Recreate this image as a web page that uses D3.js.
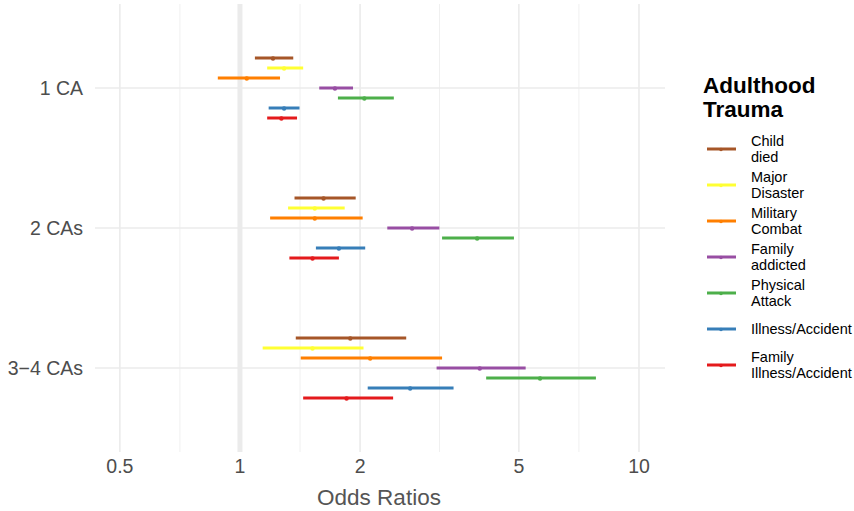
<!DOCTYPE html>
<html>
<head>
<meta charset="utf-8">
<script src="https://cdn.jsdelivr.net/npm/d3@7"></script>
<style>
  body { margin: 0; background: #fff; }
  text { font-family: "Liberation Sans", Arial, sans-serif; }
</style>
</head>
<body>
<div id="chart"></div>
<script>
// categories and series
const groups = ["1 CA", "2 CAs", "3\u22124 CAs"];
const traumas = ["Child\ndied", "Major\nDisaster", "Military\nCombat", "Family\naddicted",
  "Physical\nAttack", "Illness/Accident", "Family\nIllness/Accident"];
const colors = ["#A65628", "#FFFF33", "#FF7F00", "#984EA3", "#4DAF4A", "#377EB8", "#E41A1C"];

// odds ratios per trauma, one value per group (1 CA, 2 CAs, 3-4 CAs)
const orEst = [
  [1.21, 1.62, 1.89],
  [1.29, 1.54, 1.52],
  [1.04, 1.54, 2.12],
  [1.73, 2.70, 3.99],
  [2.05, 3.93, 5.65],
  [1.29, 1.77, 2.67],
  [1.27, 1.52, 1.85]
];
const orLow = [
  [1.09, 1.37, 1.38],
  [1.17, 1.32, 1.14],
  [0.88, 1.19, 1.42],
  [1.58, 2.34, 3.11],
  [1.76, 3.21, 4.14],
  [1.18, 1.55, 2.09],
  [1.17, 1.33, 1.44]
];
const orHigh = [
  [1.36, 1.95, 2.61],
  [1.44, 1.83, 2.04],
  [1.26, 2.03, 3.21],
  [1.92, 3.16, 5.20],
  [2.43, 4.86, 7.80],
  [1.41, 2.06, 3.43],
  [1.39, 1.77, 2.42]
];
const xTicks = [0.5, 1, 2, 5, 10];
const xMinor = [0.7071, 1.4142, 3.1623, 7.0711];

const W = 854, H = 511;
const panel = { left: 95, right: 665, top: 4, bottom: 452 };

const svg = d3.select("#chart").append("svg")
  .attr("width", W).attr("height", H);

const x = d3.scaleLog()
  .domain([0.4332, 11.62])
  .range([panel.left, panel.right]);

const y = d3.scalePoint()
  .domain(groups)
  .range([88, 368]);

const dodge = d3.scalePoint()
  .domain(d3.range(traumas.length))
  .range([-30, 30]);

// grid
const grid = svg.append("g");
grid.selectAll(".minor").data(xMinor).join("line")
  .attr("x1", d => x(d)).attr("x2", d => x(d))
  .attr("y1", panel.top).attr("y2", panel.bottom)
  .attr("stroke", "#f0f0f0").attr("stroke-width", 1);
grid.selectAll(".major").data(xTicks).join("line")
  .attr("x1", d => x(d)).attr("x2", d => x(d))
  .attr("y1", panel.top).attr("y2", panel.bottom)
  .attr("stroke", "#ebebeb").attr("stroke-width", 1.6);
grid.selectAll(".hgrid").data(groups).join("line")
  .attr("x1", panel.left).attr("x2", panel.right)
  .attr("y1", d => y(d)).attr("y2", d => y(d))
  .attr("stroke", "#ebebeb").attr("stroke-width", 1.6);
// reference line at OR = 1
grid.append("line")
  .attr("x1", x(1)).attr("x2", x(1))
  .attr("y1", panel.top).attr("y2", panel.bottom)
  .attr("stroke", "#ebebeb").attr("stroke-width", 5);

// intervals
const rows = [];
traumas.forEach((t, i) => {
  groups.forEach((g, j) => {
    rows.push({ i, g, est: orEst[i][j], lo: orLow[i][j], hi: orHigh[i][j] });
  });
});

const marks = svg.append("g");
marks.selectAll("line").data(rows).join("line")
  .attr("x1", d => x(d.lo)).attr("x2", d => x(d.hi))
  .attr("y1", d => y(d.g) + dodge(d.i)).attr("y2", d => y(d.g) + dodge(d.i))
  .attr("stroke", d => colors[d.i]).attr("stroke-width", 3);
marks.selectAll("circle").data(rows).join("circle")
  .attr("cx", d => x(d.est)).attr("cy", d => y(d.g) + dodge(d.i) + 0.5)
  .attr("r", 2.2)
  .attr("fill", d => colors[d.i]);

// axes labels
svg.append("g").selectAll("text").data(xTicks).join("text")
  .attr("x", d => x(d)).attr("y", 473)
  .attr("text-anchor", "middle")
  .attr("font-size", 19.5).attr("fill", "#4d4d4d")
  .text(d => d);
svg.append("g").selectAll("text").data(groups).join("text")
  .attr("x", 83).attr("y", d => y(d) + 7)
  .attr("text-anchor", "end")
  .attr("font-size", 19.5).attr("fill", "#4d4d4d")
  .text(d => d);
svg.append("text")
  .attr("x", (panel.left + panel.right) / 2 - 1).attr("y", 505)
  .attr("text-anchor", "middle")
  .attr("font-size", 22.5).attr("fill", "#555")
  .text("Odds Ratios");

// legend
const legend = svg.append("g");
legend.append("text")
  .attr("x", 703).attr("y", 93)
  .attr("font-size", 22.5).attr("font-weight", "bold").attr("fill", "#000")
  .selectAll("tspan").data(["Adulthood", "Trauma"]).join("tspan")
  .attr("x", 703).attr("dy", (d, k) => k ? 24 : 0)
  .text(d => d);

const item = legend.selectAll(".item").data(traumas).join("g")
  .attr("transform", (d, i) => `translate(0,${149 + i * 36})`);
item.append("line")
  .attr("x1", 707).attr("x2", 736)
  .attr("stroke", (d, i) => colors[i]).attr("stroke-width", 3);
item.append("circle")
  .attr("cx", 721).attr("cy", 0.5).attr("r", 1.8)
  .attr("fill", (d, i) => colors[i]);
item.append("text")
  .attr("font-size", 14.5).attr("fill", "#000")
  .selectAll("tspan").data(d => d.split("\n")).join("tspan")
  .attr("x", 751)
  .attr("y", (d, k, arr) => (arr.length > 1 ? (k ? 8 : -8) : 0) + 5)
  .text(d => d);
</script>
</body>
</html>
